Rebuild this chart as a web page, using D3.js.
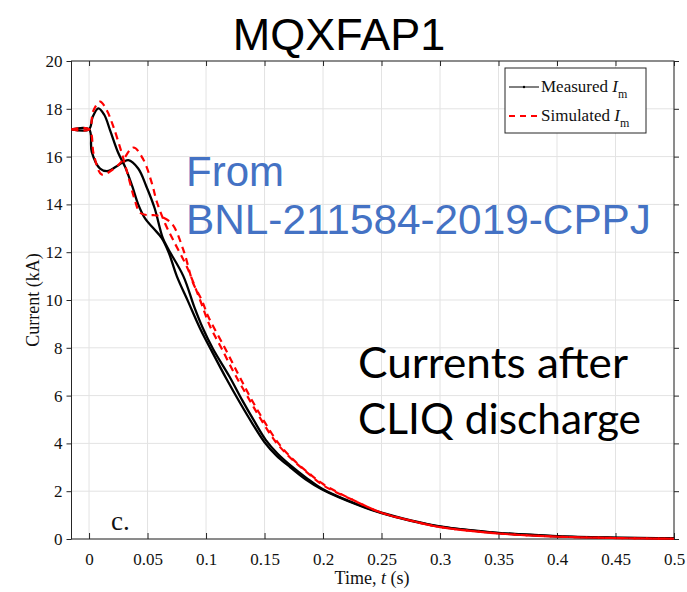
<!DOCTYPE html>
<html>
<head>
	<script src="https://cdn.jsdelivr.net/npm/d3@7/dist/d3.min.js"></script>
	<style>
		html, body {
			padding: 0;
			margin: 0;
			background: #fff;
		}
	</style>
</head>
<body>
	<script>
		var width = 687, height = 592;

		// data (t in s, current in kA)
		var tMeasA = [-0.015, 0, 0.003, 0.008, 0.013, 0.018, 0.025, 0.031, 0.037, 0.042, 0.048, 0.055, 0.062, 0.068, 0.075, 0.085, 0.095, 0.105, 0.118, 0.129, 0.14, 0.15, 0.16, 0.172, 0.185, 0.2, 0.232, 0.25, 0.275, 0.3, 0.35, 0.4, 0.45, 0.5];
		var iMeasA = [17.14, 17.14, 17.65, 18.02, 17.75, 17.1, 16.15, 15.55, 14.75, 14.0, 13.4, 13.0, 12.6, 12.0, 11.0, 9.9, 8.8, 7.85, 6.65, 5.7, 4.8, 4.05, 3.5, 3.0, 2.5, 2.05, 1.38, 1.08, 0.76, 0.52, 0.25, 0.11, 0.05, 0.02];

		var tMeasB = [-0.015, 0, 0.0023, 0.0094, 0.0165, 0.0237, 0.0336, 0.042, 0.049, 0.056, 0.063, 0.0675, 0.0806, 0.09, 0.097, 0.106, 0.12, 0.131, 0.141, 0.151, 0.161, 0.173, 0.186, 0.2, 0.232, 0.25, 0.275, 0.3, 0.35, 0.4, 0.45, 0.5];
		var iMeasB = [17.14, 17.14, 16.2, 15.5, 15.4, 15.6, 15.85, 15.5, 14.75, 13.85, 12.6, 12.15, 11.0, 9.7, 8.85, 7.95, 6.8, 5.8, 4.95, 4.15, 3.58, 3.05, 2.55, 2.08, 1.4, 1.1, 0.78, 0.53, 0.26, 0.12, 0.06, 0.03];

		var tSimA = [-0.015, 0, 0.0035, 0.0094, 0.015, 0.0208, 0.028, 0.0336, 0.039, 0.0436, 0.05, 0.055, 0.061, 0.0707, 0.0806, 0.089, 0.0963, 0.102, 0.116, 0.127, 0.1376, 0.15, 0.162, 0.175, 0.188, 0.2, 0.227, 0.25, 0.275, 0.3, 0.35, 0.4, 0.45, 0.5];
		var iSimA = [17.14, 17.14, 17.9, 18.3, 17.95, 17.25, 16.14, 15.16, 14.2, 13.65, 13.55, 13.55, 13.5, 13.2, 12.1, 10.7, 10.0, 9.3, 8.0, 6.95, 5.95, 4.9, 4.0, 3.3, 2.75, 2.3, 1.6, 1.1, 0.77, 0.5, 0.23, 0.1, 0.04, 0.01];

		var tSimB = [-0.015, 0, 0.004, 0.0108, 0.02, 0.028, 0.038, 0.0464, 0.0536, 0.058, 0.065, 0.072, 0.0835, 0.0949, 0.1034, 0.113, 0.124, 0.135, 0.147, 0.159, 0.172, 0.186, 0.2, 0.227, 0.25, 0.275, 0.3, 0.35, 0.4, 0.45, 0.5];
		var iSimB = [17.14, 17.14, 16.1, 15.25, 15.45, 15.8, 16.38, 15.88, 14.9, 14.1, 13.2, 12.5, 11.4, 10.0, 8.9, 8.0, 6.95, 6.0, 5.0, 4.1, 3.4, 2.8, 2.25, 1.6, 1.1, 0.77, 0.5, 0.23, 0.1, 0.04, 0.01];

		var xTicks = [0, 0.05, 0.1, 0.15, 0.2, 0.25, 0.3, 0.35, 0.4, 0.45, 0.5];
		var xTickLabels = ['0', '0.05', '0.1', '0.15', '0.2', '0.25', '0.3', '0.35', '0.4', '0.45', '0.5'];
		var yTicks = [0, 2, 4, 6, 8, 10, 12, 14, 16, 18, 20];

		var svg = d3.select('body').append('svg')
			.attr('width', width)
			.attr('height', height)
			.style('display', 'block');

		var x = d3.scaleLinear().domain([-0.015, 0.5]).range([71.5, 674]);
		var y = d3.scaleLinear().domain([0, 20]).range([539, 61]);

		var serif = "'Liberation Serif', 'Times New Roman', serif";
		var sans = "'Liberation Sans', Arial, sans-serif";
		var axisCol = '#262626';

		// grid
		var grid = svg.append('g');
		grid.selectAll('.gx').data(xTicks).enter().append('line')
			.attr('x1', d => x(d)).attr('x2', d => x(d))
			.attr('y1', y(0)).attr('y2', y(20))
			.attr('stroke', '#e3e3e3').attr('stroke-width', 1);
		grid.selectAll('.gy').data(yTicks).enter().append('line')
			.attr('x1', x(-0.015)).attr('x2', x(0.5))
			.attr('y1', d => y(d)).attr('y2', d => y(d))
			.attr('stroke', '#e3e3e3').attr('stroke-width', 1);

		// axes
		var xAxis = d3.axisBottom(x).tickValues(xTicks).tickSize(-6).tickPadding(14)
			.tickFormat((d, i) => xTickLabels[i]);
		var gx = svg.append('g').attr('transform', 'translate(0,' + y(0) + ')').call(xAxis);
		gx.select('.domain').remove();
		gx.selectAll('line').attr('stroke', axisCol);
		gx.selectAll('text').attr('font-family', serif).attr('font-size', 17).attr('fill', '#111');

		var yAxis = d3.axisLeft(y).tickValues(yTicks).tickSize(5).tickPadding(4);
		var gy = svg.append('g').attr('transform', 'translate(' + x(-0.015) + ',0)').call(yAxis);
		gy.select('.domain').remove();
		gy.selectAll('line').attr('stroke', axisCol);
		gy.selectAll('text').attr('font-family', serif).attr('font-size', 17).attr('fill', '#111');

		var gt = svg.append('g').attr('transform', 'translate(0,' + y(20) + ')')
			.call(d3.axisTop(x).tickValues(xTicks).tickSize(-5).tickFormat(''));
		gt.select('.domain').remove();
		gt.selectAll('line').attr('stroke', axisCol);
		var gr = svg.append('g').attr('transform', 'translate(' + x(0.5) + ',0)')
			.call(d3.axisRight(y).tickValues(yTicks).tickSize(5).tickFormat(''));
		gr.select('.domain').remove();
		gr.selectAll('line').attr('stroke', axisCol);

		svg.append('rect')
			.attr('x', x(-0.015)).attr('y', y(20))
			.attr('width', x(0.5) - x(-0.015)).attr('height', y(0) - y(20))
			.attr('fill', 'none').attr('stroke', axisCol).attr('stroke-width', 1);

		// curves
		var line = d3.line()
			.x(d => x(d[0])).y(d => y(d[1]))
			.curve(d3.curveCatmullRom.alpha(0.5));

		function pairs(ts, is) { return ts.map((t, i) => [t, is[i]]); }

		var plot = svg.append('g');
		[[tMeasA, iMeasA], [tMeasB, iMeasB]].forEach(function(s) {
			plot.append('path').datum(pairs(s[0], s[1]))
				.attr('d', line).attr('fill', 'none')
				.attr('stroke', '#000').attr('stroke-width', 2.3);
		});
		[[tSimA, iSimA], [tSimB, iSimB]].forEach(function(s) {
			plot.append('path').datum(pairs(s[0], s[1]))
				.attr('d', line).attr('fill', 'none')
				.attr('stroke', '#ff0000').attr('stroke-width', 2.2)
				.attr('stroke-dasharray', '7,5');
		});

		// axis labels
		var xl = svg.append('text').attr('x', 372).attr('y', 584)
			.attr('text-anchor', 'middle').attr('font-family', serif).attr('font-size', 18).attr('fill', '#111');
		xl.append('tspan').text('Time, ');
		xl.append('tspan').attr('font-style', 'italic').text('t');
		xl.append('tspan').text(' (s)');

		svg.append('text')
			.attr('transform', 'translate(39,300) rotate(-90)')
			.attr('text-anchor', 'middle').attr('font-family', serif).attr('font-size', 18).attr('fill', '#111')
			.text('Current (kA)');

		// legend
		var lg = svg.append('g');
		lg.append('rect').attr('x', 505).attr('y', 68).attr('width', 141).attr('height', 65)
			.attr('fill', '#fff').attr('stroke', axisCol).attr('stroke-width', 1);
		var legendItems = [
			{label: 'Measured ', color: '#000', dash: null, y: 87},
			{label: 'Simulated ', color: '#ff0000', dash: '6,5', y: 116}
		];
		legendItems.forEach(function(d) {
			lg.append('line').attr('x1', 509).attr('x2', 539).attr('y1', d.y).attr('y2', d.y)
				.attr('stroke', d.color).attr('stroke-width', d.dash ? 2 : 1)
				.attr('stroke-dasharray', d.dash);
			if (!d.dash) {
				lg.append('circle').attr('cx', 524).attr('cy', d.y).attr('r', 1.2).attr('fill', '#000');
			}
			var t = lg.append('text').attr('x', 541).attr('y', d.y + 5)
				.attr('font-family', serif).attr('font-size', 17).attr('fill', '#111');
			t.append('tspan').text(d.label);
			t.append('tspan').attr('font-style', 'italic').text('I');
			t.append('tspan').attr('font-size', 12).attr('dy', 6).text('m');
		});

		// title and annotations
		svg.append('text').attr('x', 339).attr('y', 50).attr('text-anchor', 'middle')
			.attr('font-family', sans).attr('font-size', 45).attr('fill', '#000')
			.text('MQXFAP1');

		svg.append('text').attr('x', 186).attr('y', 186)
			.attr('font-family', sans).attr('font-size', 42).attr('fill', '#4472c4')
			.text('From');
		svg.append('text').attr('x', 186).attr('y', 234)
			.attr('font-family', sans).attr('font-size', 42).attr('fill', '#4472c4')
			.attr('textLength', 465).attr('lengthAdjust', 'spacingAndGlyphs')
			.text('BNL-211584-2019-CPPJ');

		svg.append('text').attr('x', 358).attr('y', 378)
			.attr('font-family', "Lato, 'Open Sans', sans-serif").attr('font-size', 43).attr('fill', '#000')
			.attr('textLength', 270).attr('lengthAdjust', 'spacingAndGlyphs')
			.text('Currents after');
		svg.append('text').attr('x', 358).attr('y', 434)
			.attr('font-family', "Lato, 'Open Sans', sans-serif").attr('font-size', 43).attr('fill', '#000')
			.attr('textLength', 283).attr('lengthAdjust', 'spacingAndGlyphs')
			.text('CLIQ discharge');

		svg.append('text').attr('x', 111).attr('y', 530)
			.attr('font-family', serif).attr('font-size', 27).attr('fill', '#111')
			.text('c.');
	</script>
</body>
</html>
